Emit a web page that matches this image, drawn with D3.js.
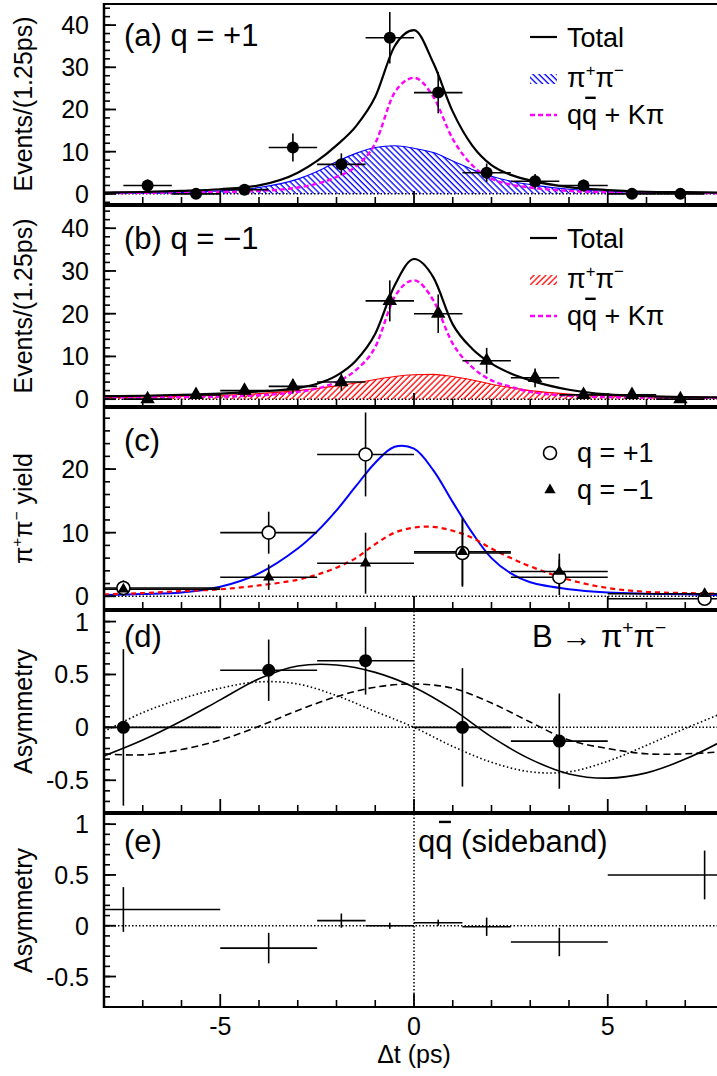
<!DOCTYPE html>
<html>
<head>
<meta charset="utf-8">
<script src="https://cdn.jsdelivr.net/npm/d3@7"></script>
<style>
body { margin: 0; background: #fff; }
svg { display: block; font-family: "Liberation Sans", Arial, Helvetica, sans-serif; }
</style>
</head>
<body>
<div id="fig"></div>
<script>
// ---- data ----
// (a),(b): 1.25 ps bins
var binCenters = [-6.875, -5.625, -4.375, -3.125, -1.875, -0.625, 0.625, 1.875, 3.125, 4.375, 5.625, 6.875];
var eventsPlus = [2, 0, 1, 11, 7, 37, 24, 5, 3, 2, 0, 0];
var errPlus = [1.4, 0, 1.0, 3.3, 2.6, 6.1, 4.9, 2.2, 1.7, 1.4, 0, 0];
var eventsMinus = [0, 1, 2, 3, 4, 23, 20, 9, 5, 1, 1, 0];
var errMinus = [0, 1.0, 1.4, 1.7, 2.0, 4.8, 4.5, 3.0, 2.2, 1.0, 1.0, 0];

// fitted curves sampled at these dt values
var tGrid = [-8, -7, -6, -5, -4, -3, -2.5, -2, -1.5, -1, -0.5, 0, 0.5, 1, 1.5, 2, 2.5, 3, 4, 5, 6, 7, 8];
var totalA = [0.3, 0.45, 0.7, 1.1, 2.0, 5.0, 7.8, 11.5, 16, 23, 35, 38.8, 31, 19.5, 11.5, 6.8, 4.5, 3.2, 1.6, 0.9, 0.5, 0.4, 0.3];
var pipiA = [0.1, 0.2, 0.35, 0.7, 1.5, 3.5, 5.3, 7.6, 9.6, 11, 11.4, 10.8, 9.8, 7.8, 5.8, 4.2, 3.0, 2.2, 1.1, 0.6, 0.35, 0.2, 0.12];
var bkgA = [0.2, 0.25, 0.35, 0.45, 0.7, 1.5, 2.4, 4.0, 6.5, 12, 24, 27.5, 23, 13, 6.8, 3.6, 2.2, 1.5, 0.7, 0.4, 0.25, 0.2, 0.15];
var totalB = [0.7, 0.8, 1.0, 1.3, 1.8, 2.6, 3.6, 5.5, 9.0, 15.3, 26.6, 32.8, 28.5, 17.5, 11.8, 8.3, 6.0, 4.4, 2.2, 1.1, 0.7, 0.5, 0.4];
var pipiB = [0.4, 0.5, 0.7, 0.9, 1.3, 2.0, 2.5, 3.1, 3.8, 4.6, 5.3, 5.7, 5.8, 5.3, 4.5, 3.5, 2.7, 2.0, 1.2, 0.8, 0.6, 0.5, 0.4];
var bkgB = [0.4, 0.45, 0.5, 0.6, 0.9, 1.7, 2.5, 4.0, 6.8, 12.2, 23.9, 27.8, 23.1, 13, 7.5, 4.4, 2.9, 1.7, 0.8, 0.5, 0.4, 0.35, 0.3];
var fitPlusC = [0.2, 0.35, 0.6, 1.5, 3.6, 7.5, 10.2, 13.5, 17.3, 21.0, 23.5, 23.2, 19.8, 14.8, 10.0, 6.0, 3.6, 2.2, 1.1, 0.6, 0.4, 0.3, 0.2];
var fitMinusC = [0.3, 0.5, 0.8, 1.1, 1.7, 2.6, 3.4, 4.5, 6.0, 8.2, 10.0, 10.8, 10.9, 10.3, 9.2, 7.5, 6.0, 4.7, 2.6, 1.3, 0.7, 0.5, 0.4];

// (c),(d),(e): wide bins
var wideCenters = [-7.5, -3.75, -1.25, 1.25, 3.75, 7.5];
var wideHalf = [2.5, 1.25, 1.25, 1.25, 1.25, 2.5];
var yieldPlus = [1.3, 10, 22.3, 6.8, 3.0, -0.4];
var yieldPlusErr = [1.2, 3.3, 6.6, 5.3, 2.8, 1.0];
var yieldMinus = [1.1, 3.0, 5.2, 7.0, 3.9, 0.4];
var yieldMinusErr = [1.0, 2.0, 4.8, 5.3, 2.8, 0.8];

var asymCenters = [-7.5, -3.75, -1.25, 1.25, 3.75];
var asymHalf = [2.5, 1.25, 1.25, 1.25, 1.25];
var asym = [0, 0.54, 0.63, 0, -0.13];
var asymErr = [0.74, 0.29, 0.32, 0.56, 0.45];

var dGrid = [-8, -7, -6, -5, -4, -3, -2, -1, 0, 1, 2, 3, 4, 5, 6, 7, 8];
var asymFit = [-0.27, -0.12, 0.06, 0.26, 0.46, 0.58, 0.59, 0.52, 0.38, 0.17, -0.09, -0.3, -0.44, -0.48, -0.43, -0.3, -0.12];
var asymDashed = [-0.25, -0.26, -0.21, -0.12, 0.01, 0.16, 0.29, 0.38, 0.41, 0.37, 0.23, 0.05, -0.12, -0.2, -0.25, -0.25, -0.23];
var asymDotted = [-0.04, 0.14, 0.27, 0.37, 0.43, 0.41, 0.3, 0.15, 0.0, -0.18, -0.33, -0.42, -0.42, -0.32, -0.17, -0.01, 0.14];

var sideCenters = [-7.5, -3.75, -1.875, -0.625, 0.625, 1.875, 3.75, 7.5];
var sideHalf = [2.5, 1.25, 0.625, 0.625, 0.625, 0.625, 1.25, 2.5];
var sideAsym = [0.16, -0.22, 0.05, 0.0, 0.03, -0.01, -0.16, 0.5];
var sideErr = [0.22, 0.15, 0.07, 0.03, 0.03, 0.09, 0.14, 0.24];

var xTicksMajor = [-5, 0, 5];
var xTicksMinor = [-7, -6, -4, -3, -2, -1, 1, 2, 3, 4, 6, 7];

// ---- layout ----
var W = 717, H = 1076;
var left = 104;
var svg = d3.select("#fig").append("svg").attr("width", W).attr("height", H);
var defs = svg.append("defs");

var x = d3.scaleLinear().domain([-8, 8]).range([left, 724]);

var panels = [
  {key: "a", top: 4, bottom: 204, dom: [-2.4, 45], major: [0, 10, 20, 30, 40], minor: d3.range(-2, 45, 2)},
  {key: "b", top: 206, bottom: 406, dom: [-1.6, 45.2], major: [0, 10, 20, 30, 40], minor: d3.range(-2, 46, 2)},
  {key: "c", top: 408, bottom: 609, dom: [-2, 29.6], major: [0, 10, 20], minor: d3.range(-2, 30, 2)},
  {key: "d", top: 611, bottom: 812, dom: [-0.8, 1.1], major: [-0.5, 0, 0.5, 1], minor: d3.range(-8, 12).map(function(v){ return v / 10; })},
  {key: "e", top: 814, bottom: 1007, dom: [-0.8, 1.1], major: [-0.5, 0, 0.5, 1], minor: d3.range(-8, 12).map(function(v){ return v / 10; })}
];
panels.forEach(function(p){
  p.y = d3.scaleLinear().domain(p.dom).range([p.bottom, p.top]);
  defs.append("clipPath").attr("id", "clip" + p.key)
    .append("rect").attr("x", left).attr("y", p.top).attr("width", W - left).attr("height", p.bottom - p.top);
  p.g = svg.append("g").attr("clip-path", "url(#clip" + p.key + ")");
});

// hatch patterns
function hatch(id, color, angle){
  defs.append("pattern").attr("id", id)
    .attr("patternUnits", "userSpaceOnUse")
    .attr("width", 4.2).attr("height", 4.2)
    .attr("patternTransform", "rotate(" + angle + ")")
    .append("line").attr("x1", 1).attr("y1", 0).attr("x2", 1).attr("y2", 4.2)
    .attr("stroke", color).attr("stroke-width", 1.3);
}
hatch("hatchBlue", "#0000ff", -45);
hatch("hatchRed", "#ff0000", 45);

// helpers
function curve(p, xs, ys, style, kind){
  var line = d3.line().x(function(d){ return x(d[0]); }).y(function(d){ return p.y(d[1]); })
    .curve(kind || d3.curveMonotoneX);
  var path = p.g.append("path").datum(d3.zip(xs, ys)).attr("d", line).attr("fill", "none");
  for (var k in style) path.attr(k, style[k]);
  return path;
}
function hatchedArea(p, xs, ys, fillId, color){
  var area = d3.area().x(function(d){ return x(d[0]); })
    .y0(p.y(0)).y1(function(d){ return p.y(d[1]); }).curve(d3.curveMonotoneX);
  p.g.append("path").datum(d3.zip(xs, ys)).attr("d", area).attr("fill", "url(#" + fillId + ")");
  curve(p, xs, ys, {stroke: color, "stroke-width": 1.1});
}
function errBars(p, cs, hws, vs, es){
  cs.forEach(function(c, i){
    p.g.append("line").attr("x1", x(c - hws[i])).attr("x2", x(c + hws[i]))
      .attr("y1", p.y(vs[i])).attr("y2", p.y(vs[i]))
      .attr("stroke", "#000").attr("stroke-width", 1.6);
    if (es[i] > 0) {
      p.g.append("line").attr("x1", x(c)).attr("x2", x(c))
        .attr("y1", p.y(vs[i] - es[i])).attr("y2", p.y(vs[i] + es[i]))
        .attr("stroke", "#000").attr("stroke-width", 1.6);
    }
  });
}
function zeroLine(p){
  p.g.append("line").attr("x1", left).attr("x2", W).attr("y1", p.y(0)).attr("y2", p.y(0))
    .attr("stroke", "#000").attr("stroke-width", 1.5).attr("stroke-dasharray", "1.5,2");
}
function piPi(t, fs){
  t.append("tspan").text("π");
  t.append("tspan").attr("dy", -0.42 * fs).attr("font-size", 0.62 * fs).text("+");
  t.append("tspan").attr("dy", 0.42 * fs).text("π");
  t.append("tspan").attr("dy", -0.42 * fs).attr("font-size", 0.62 * fs).text("−");
  return t;
}
function label(tx, ty, fs, str){
  return svg.append("text").attr("x", tx).attr("y", ty).attr("font-size", fs).text(str || "");
}
function qqBar(t, fs, by){
  var r = t.node().getExtentOfChar(1);
  svg.append("line").attr("x1", r.x + 0.12 * fs).attr("x2", r.x + r.width - 0.05 * fs)
    .attr("y1", by - 0.97 * fs).attr("y2", by - 0.97 * fs)
    .attr("stroke", "#000").attr("stroke-width", 2.4);
}
function triangle(size){ return d3.symbol().type(d3.symbolTriangle).size(size)(); }

var pa = panels[0], pb = panels[1], pc = panels[2], pd = panels[3], pe = panels[4];

// ---- (a) ----
zeroLine(pa);
hatchedArea(pa, tGrid, pipiA, "hatchBlue", "#0000ff");
curve(pa, tGrid, bkgA, {stroke: "#ff00ff", "stroke-width": 2.4, "stroke-dasharray": "5,3"});
curve(pa, tGrid, totalA, {stroke: "#000", "stroke-width": 2.2});
errBars(pa, binCenters, binCenters.map(function(){ return 0.625; }), eventsPlus, errPlus);
pa.g.selectAll("circle.pt").data(binCenters).enter().append("circle")
  .attr("cx", function(d){ return x(d); }).attr("cy", function(d, i){ return pa.y(eventsPlus[i]); })
  .attr("r", 6).attr("fill", "#000");

// ---- (b) ----
zeroLine(pb);
hatchedArea(pb, tGrid, pipiB, "hatchRed", "#ff0000");
curve(pb, tGrid, bkgB, {stroke: "#ff00ff", "stroke-width": 2.4, "stroke-dasharray": "5,3"});
curve(pb, tGrid, totalB, {stroke: "#000", "stroke-width": 2.2});
errBars(pb, binCenters, binCenters.map(function(){ return 0.625; }), eventsMinus, errMinus);
pb.g.selectAll("path.pt").data(binCenters).enter().append("path")
  .attr("d", triangle(90))
  .attr("transform", function(d, i){ return "translate(" + x(d) + "," + pb.y(eventsMinus[i]) + ")"; })
  .attr("fill", "#000");

// ---- (c) ----
zeroLine(pc);
curve(pc, tGrid, fitPlusC, {stroke: "#0000ff", "stroke-width": 2}, d3.curveCatmullRom);
curve(pc, tGrid, fitMinusC, {stroke: "#ff0000", "stroke-width": 2.2, "stroke-dasharray": "5,4"}, d3.curveCatmullRom);
errBars(pc, wideCenters, wideHalf, yieldPlus, yieldPlusErr);
errBars(pc, wideCenters, wideHalf, yieldMinus, yieldMinusErr);
pc.g.selectAll("circle.pt").data(wideCenters).enter().append("circle")
  .attr("cx", function(d){ return x(d); }).attr("cy", function(d, i){ return pc.y(yieldPlus[i]); })
  .attr("r", 6.5).attr("fill", "#fff").attr("stroke", "#000").attr("stroke-width", 1.6);
pc.g.selectAll("path.pt").data(wideCenters).enter().append("path")
  .attr("d", triangle(55))
  .attr("transform", function(d, i){ return "translate(" + x(d) + "," + pc.y(yieldMinus[i]) + ")"; })
  .attr("fill", "#000");

// ---- (d) ----
zeroLine(pd);
pd.g.append("line").attr("x1", x(0)).attr("x2", x(0)).attr("y1", pd.top).attr("y2", pd.bottom)
  .attr("stroke", "#000").attr("stroke-width", 1.5).attr("stroke-dasharray", "1.5,2");
curve(pd, dGrid, asymDotted, {stroke: "#000", "stroke-width": 1.6, "stroke-dasharray": "1.5,2.5"}, d3.curveCatmullRom);
curve(pd, dGrid, asymDashed, {stroke: "#000", "stroke-width": 1.6, "stroke-dasharray": "7,4"}, d3.curveCatmullRom);
curve(pd, dGrid, asymFit, {stroke: "#000", "stroke-width": 1.6}, d3.curveCatmullRom);
errBars(pd, asymCenters, asymHalf, asym, asymErr);
pd.g.selectAll("circle.pt").data(asymCenters).enter().append("circle")
  .attr("cx", function(d){ return x(d); }).attr("cy", function(d, i){ return pd.y(asym[i]); })
  .attr("r", 6.5).attr("fill", "#000");

// ---- (e) ----
zeroLine(pe);
pe.g.append("line").attr("x1", x(0)).attr("x2", x(0)).attr("y1", pe.top).attr("y2", pe.bottom)
  .attr("stroke", "#000").attr("stroke-width", 1.5).attr("stroke-dasharray", "1.5,2");
errBars(pe, sideCenters, sideHalf, sideAsym, sideErr);

// ---- frames and axes ----
var yTitles = ["Events/(1.25ps)", "Events/(1.25ps)", null, "Asymmetry", "Asymmetry"];
panels.forEach(function(p, i){
  var fr = svg.append("g");
  fr.append("line").attr("x1", left).attr("x2", W).attr("y1", p.top).attr("y2", p.top)
    .attr("stroke", "#000").attr("stroke-width", 2.2);
  fr.append("line").attr("x1", left).attr("x2", W).attr("y1", p.bottom).attr("y2", p.bottom)
    .attr("stroke", "#000").attr("stroke-width", 2.2);
  // y ticks (inward)
  fr.selectAll("line.ymin").data(p.minor).enter().append("line")
    .attr("x1", left).attr("x2", left + 6)
    .attr("y1", function(d){ return p.y(d); }).attr("y2", function(d){ return p.y(d); })
    .attr("stroke", "#000").attr("stroke-width", 1.6);
  fr.selectAll("line.ymaj").data(p.major).enter().append("line")
    .attr("x1", left).attr("x2", left + 12)
    .attr("y1", function(d){ return p.y(d); }).attr("y2", function(d){ return p.y(d); })
    .attr("stroke", "#000").attr("stroke-width", 1.8);
  fr.selectAll("text.yl").data(p.major).enter().append("text")
    .attr("x", 89).attr("y", function(d){ return p.y(d); }).attr("dy", "0.36em")
    .attr("text-anchor", "end").attr("font-size", 25)
    .text(function(d){ return String(d); });
  // x ticks on the bottom edge
  fr.selectAll("line.xmin").data(xTicksMinor).enter().append("line")
    .attr("x1", function(d){ return x(d); }).attr("x2", function(d){ return x(d); })
    .attr("y1", p.bottom).attr("y2", p.bottom - 7)
    .attr("stroke", "#000").attr("stroke-width", 1.6);
  fr.selectAll("line.xmaj").data(xTicksMajor).enter().append("line")
    .attr("x1", function(d){ return x(d); }).attr("x2", function(d){ return x(d); })
    .attr("y1", p.bottom).attr("y2", p.bottom - 13)
    .attr("stroke", "#000").attr("stroke-width", 1.8);
  var cy = (p.top + p.bottom) / 2;
  if (yTitles[i]) {
    svg.append("text").attr("transform", "translate(32," + cy + ") rotate(-90)")
      .attr("text-anchor", "middle").attr("font-size", 25).text(yTitles[i]);
  }
});
svg.append("line").attr("x1", left).attr("x2", left).attr("y1", 3).attr("y2", 1008)
  .attr("stroke", "#000").attr("stroke-width", 2.5);

// y title for (c) with superscripts
var tc = svg.append("text").attr("transform", "translate(32," + ((pc.top + pc.bottom) / 2) + ") rotate(-90)")
  .attr("text-anchor", "middle").attr("font-size", 25);
piPi(tc, 25);
tc.append("tspan").attr("dy", 0.42 * 25).text(" yield");

// x tick labels and title
svg.selectAll("text.xl").data(xTicksMajor).enter().append("text")
  .attr("x", function(d){ return x(d); }).attr("y", 1035)
  .attr("text-anchor", "middle").attr("font-size", 25)
  .text(function(d){ return String(d); });
label(x(0), 1063, 25, "Δt (ps)").attr("text-anchor", "middle");

// ---- panel labels ----
label(124, 46, 31, "(a) q = +1");
label(124, 249, 31, "(b) q = −1");
label(124, 451, 31, "(c)");
label(124, 647, 31, "(d)");
label(124, 852, 31, "(e)");
var bpp = label(532, 647, 31, "B → ");
piPi(bpp, 31);
var qs = label(418, 852, 31, "qq (sideband)");
qqBar(qs, 31, 852);

// ---- legends (a),(b) ----
function legendAB(off, fillId, color){
  svg.append("line").attr("x1", 530).attr("x2", 557).attr("y1", 37 + off).attr("y2", 37 + off)
    .attr("stroke", "#000").attr("stroke-width", 2.2);
  label(567, 47 + off, 27, "Total");
  svg.append("rect").attr("x", 530).attr("y", 74 + off).attr("width", 27).attr("height", 10)
    .attr("fill", "url(#" + fillId + ")");
  piPi(label(567, 87 + off, 27), 27);
  svg.append("line").attr("x1", 530).attr("x2", 557).attr("y1", 115 + off).attr("y2", 115 + off)
    .attr("stroke", "#ff00ff").attr("stroke-width", 2.4).attr("stroke-dasharray", "5,3");
  var t = label(567, 124 + off, 27, "qq + Kπ");
  qqBar(t, 27, 124 + off);
}
legendAB(0, "hatchBlue", "#0000ff");
legendAB(201, "hatchRed", "#ff0000");

// ---- legend (c) ----
svg.append("circle").attr("cx", 550).attr("cy", 453).attr("r", 6.5)
  .attr("fill", "#fff").attr("stroke", "#000").attr("stroke-width", 1.6);
label(577, 462, 27, "q = +1");
svg.append("path").attr("d", triangle(55)).attr("transform", "translate(550,490)").attr("fill", "#000");
label(577, 499, 27, "q = −1");
</script>
</body>
</html>
